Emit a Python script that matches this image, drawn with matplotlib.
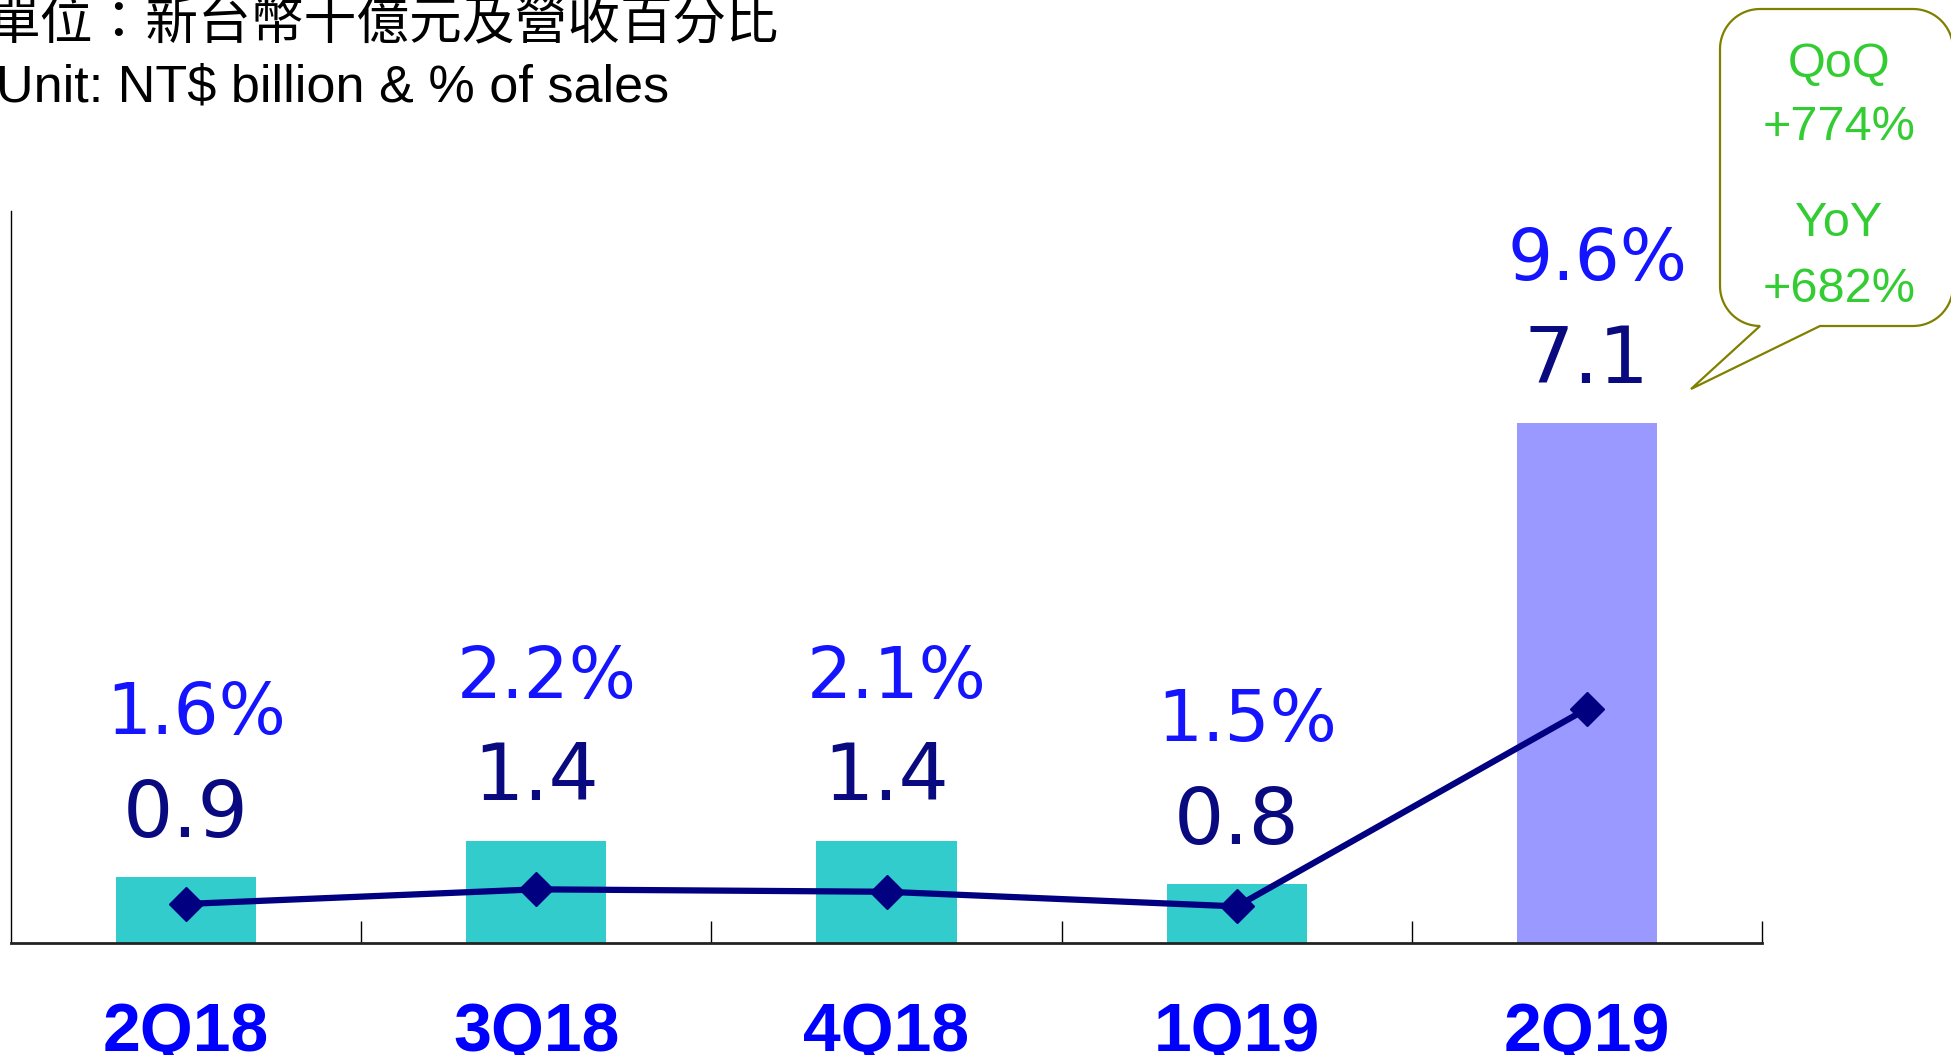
import numpy as np
import matplotlib
matplotlib.use("Agg")
import matplotlib.pyplot as plt
from matplotlib.patches import Polygon

# ---------------- data ----------------
quarters = ["2Q18", "3Q18", "4Q18", "1Q19", "2Q19"]
values = [0.9, 1.4, 1.4, 0.8, 7.1]          # NT$ billion
pct_of_sales = [1.6, 2.2, 2.1, 1.5, 9.6]    # % of sales
callout_lines = ["QoQ", "+774%", "YoY", "+682%"]
title_zh = "單位：新台幣十億元及營收百分比"
title_en = "Unit: NT$ billion & % of sales"

W, H = 1951, 1055
fig = plt.figure(figsize=(W / 100, H / 100), dpi=100)

def fx(x):
    return x / W

def fy(y):
    return 1 - y / H

ax = fig.add_axes([fx(11), fy(943), (1762 - 11) / W, (943 - 211) / H])
ax2 = ax.twinx()

x = np.arange(len(quarters))
bar_colors = ["#33CCCC"] * (len(quarters) - 1) + ["#9999FF"]
ax.bar(x, values, width=0.4, color=bar_colors, zorder=1)
ax.set_xlim(-0.5, len(quarters) - 0.5)
ax.set_ylim(0, 10)

ax2.plot(x, pct_of_sales, color="#000080", lw=4.5, marker="D", ms=17,
         zorder=3)
ax2.set_ylim(0, 30)
ax2.axis("off")

# spines and ticks
for s in ["top", "right"]:
    ax.spines[s].set_visible(False)
ax.spines["left"].set_linewidth(1.0)
ax.spines["left"].set_color("black")
ax.spines["bottom"].set_linewidth(2.0)
ax.spines["bottom"].set_color("#222222")
ax.set_yticks([])
ax.set_xticks(np.arange(len(quarters)) + 0.5)
ax.set_xticklabels([])
ax.tick_params(axis="x", which="major", direction="in", length=16,
               width=1.0, color="black")
ax.set_xticks(x, minor=True)
ax.set_xticklabels(quarters, minor=True, fontsize=49, fontweight="bold",
                   color="#0000FF", family=["Liberation Sans", "DejaVu Sans"])
ax.tick_params(axis="x", which="minor", length=0, pad=42)

# value & percent labels
for xi, v, p in zip(x, values, pct_of_sales):
    ax.annotate(f"{v:.1f}", (xi, v), xytext=(0, 45), textcoords="offset points",
                ha="center", va="center", fontsize=57, color="#0A0A80",
                family="DejaVu Sans")
    ax.annotate(f"{p:.1f}%", (xi + 0.03, v), xytext=(0, 117),
                textcoords="offset points", ha="center", va="center",
                fontsize=51, color="#1414FF", family="DejaVu Sans")

# header texts
fig.text(fx(-12), fy(24), title_zh, ha="left", va="center", fontsize=38,
         color="black", family=["Noto Sans CJK TC", "DejaVu Sans"])
fig.text(fx(-4), fy(88), title_en, ha="left", va="center", fontsize=37.5,
         color="black", family=["Liberation Sans", "DejaVu Sans"])

# callout bubble
L, R, T, B, r = 1720, 1953, 9, 326, 40
tail_a, tail_b, tip = 1760, 1820, (1691, 389)

def arc(cx, cy, t0, t1, n=20):
    t = np.radians(np.linspace(t0, t1, n))
    return list(zip(cx + r * np.cos(t), cy + r * np.sin(t)))

pts = [(tail_b, B), (R - r, B)]
pts += arc(R - r, B - r, 90, 0)
pts += [(R, T + r)]
pts += arc(R - r, T + r, 0, -90)
pts += [(L + r, T)]
pts += arc(L + r, T + r, -90, -180)
pts += [(L, B - r)]
pts += arc(L + r, B - r, 180, 90)
pts += [(tail_a, B), tip]
pts_fig = [(fx(px), fy(py)) for px, py in pts]
bubble = Polygon(pts_fig, closed=True, facecolor="white", edgecolor="#808000",
                 lw=1.6, transform=fig.transFigure, zorder=5)
fig.add_artist(bubble)

for txt, yy in zip(callout_lines, [65, 128, 224, 289]):
    fig.text(fx(1839), fy(yy), txt, ha="center", va="center", fontsize=35,
             color="#33CC33", family=["Liberation Sans", "DejaVu Sans"],
             zorder=6)

fig.savefig("out.png", dpi=100)
